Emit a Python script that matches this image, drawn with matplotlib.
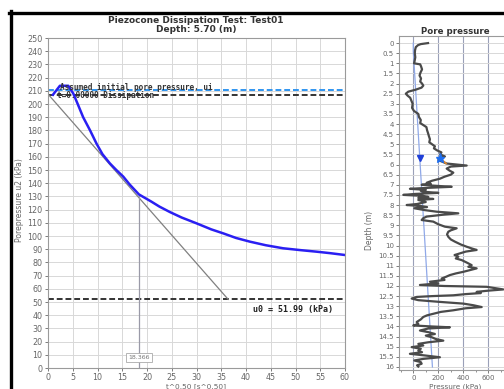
import matplotlib
matplotlib.use("Agg")
import matplotlib.pyplot as plt
from matplotlib.lines import Line2D
import numpy as np

# ---- dissipation test (left panel) ----
sqrt_t = [1.0, 2.4, 4.1, 5.1, 6.0, 7.1, 8.5, 9.8, 11.0, 12.5, 13.8, 15.2, 16.5,
          18.366, 20.9, 22.5, 24.6, 27.0, 30.0, 33.0, 35.4, 38.0, 40.8, 44.0,
          47.5, 51.0, 54.3, 57.0, 60.0]
u2 = [207.0, 213.8, 213.8, 208.0, 200.0, 190.0, 180.0, 170.0, 162.0, 155.0,
      150.0, 145.0, 139.0, 131.5, 126.0, 122.3, 118.2, 114.0, 109.6, 105.0,
      102.0, 98.5, 95.7, 93.0, 90.7, 89.3, 88.1, 87.0, 85.6]

ui = 210.5          # assumed initial pore pressure
u_start = 206.5     # pore pressure at start of dissipation
u0 = 51.99          # equilibrium pore pressure
t50_root = 18.366   # sqrt(t50)
tangent_x = [0.0, 36.4]
tangent_u = [207.5, u0]
u50 = 131.5

x_ticks = list(range(0, 61, 5))
y_ticks = list(range(0, 251, 10))

# ---- pore pressure profile (right panel) ----
depth = [0.00, 0.05, 0.10, 0.20, 0.35, 0.50, 0.70, 0.90, 1.00, 1.05, 1.15, 1.30,
         1.45, 1.60, 1.75, 1.90, 2.00, 2.10, 2.20, 2.30, 2.40, 2.50, 2.60, 2.70,
         2.85, 3.00, 3.20, 3.35, 3.50, 3.65, 3.80, 3.95, 4.05, 4.15, 4.30, 4.45,
         4.60, 4.75, 4.90, 5.00, 5.10, 5.20, 5.30, 5.40, 5.50, 5.60, 5.70, 5.78,
         5.88, 5.95, 6.05, 6.10, 6.20, 6.30, 6.40, 6.50, 6.60, 6.70, 6.80, 6.90,
         6.95, 7.00, 7.05, 7.10, 7.15, 7.20, 7.25, 7.30, 7.35, 7.40, 7.45, 7.50,
         7.55, 7.60, 7.65, 7.70, 7.75, 7.85, 7.95, 8.00, 8.05, 8.10, 8.16, 8.25,
         8.33, 8.41, 8.47, 8.57, 8.65, 8.74, 8.82, 8.95, 9.07, 9.15, 9.25, 9.32,
         9.45, 9.57, 9.70, 9.81, 9.95, 10.06, 10.15, 10.22, 10.30, 10.39, 10.47,
         10.55, 10.64, 10.72, 10.85, 10.97, 11.05, 11.13, 11.22, 11.30, 11.38,
         11.46, 11.55, 11.63, 11.70, 11.79, 11.87, 11.95, 12.00, 12.04, 12.10,
         12.17, 12.23, 12.29, 12.35, 12.40, 12.46, 12.50, 12.54, 12.62, 12.70,
         12.78, 12.87, 12.95, 13.04, 13.10, 13.20, 13.28, 13.37, 13.45, 13.53,
         13.65, 13.78, 13.88, 13.95, 14.00, 14.04, 14.10, 14.20, 14.28, 14.37,
         14.45, 14.53, 14.62, 14.70, 14.78, 14.86, 14.94, 15.02, 15.10, 15.19,
         15.27, 15.35, 15.43, 15.52, 15.60, 15.68, 15.76, 15.84, 15.92, 15.98]
pressure = [118, 60, 38, 20, 14, 12, 16, 10, 6, 55, 62, 70,
            58, 50, 62, 55, 70, 80, 66, 20, -40, -60, -45, -25,
            -15, -5, -10, 5, 40, 45, 60, 55, 80, 105, 110, 118,
            125, 133, 128, 150, 173, 165, 190, 225, 215, 253, 215, 200,
            240, 267, 427, 300, 267, 290, 320, 300, 250, 213, 150, 107,
            140, 67, 180, 307, 120, -27, 100, 60, 93, 200, 20, -80,
            80, 120, 40, 160, 40, 100, 30, -53, 60, 110, 8, 90,
            187, 360, 250, 107, 80, 67, 160, 200, 253, 347, 300, 280,
            270, 280, 300, 333, 380, 427, 470, 507, 420, 373, 330,
            360, 340, 387, 430, 467, 440, 507, 450, 400, 340,
            293, 260, 227, 250, 133, 200, 53, 250, 587, 650,
            720, 600, 507, 540, 420, 320, 150, 27, -13, 40,
            200, 400, 480, 547, 420, 320, 220, 160, 110, 80,
            60, 27, 40, 0, 150, 293, 120, 53, 120, 173,
            100, 147, 180, 240, 120, 40, 80, -13, 60, 40,
            70, -27, 90, 213, 80, 8, 60, 67, 30, 40]

hydro_depth = [0.0, 0.4, 16.0]
hydro_u = [0.0, 0.0, 153.0]
test_depth = 5.70
test_seg_depth = [5.65, 5.95]
test_seg_u = [210.0, 262.0]

depth_ticks = [i * 0.5 for i in range(33)]
depth_labels = ["0", "0.5", "1", "1.5", "2", "2.5", "3", "3.5", "4", "4.5", "5",
                "5.5", "6", "6.5", "7", "7.5", "8", "8.5", "9", "9.5", "10", "10.5",
                "11", "11.5", "12", "12.5", "13", "13.5", "14", "14.5", "15", "15.5", "16"]
press_ticks = [0, 200, 400, 600]

W, H = 504, 389
fig = plt.figure(figsize=(W / 100, H / 100), dpi=100)
fig.patch.set_facecolor("white")

def box(l, t, r, b):
    return [l / W, 1 - b / H, (r - l) / W, (b - t) / H]

tick_col = "#666666"
grid_col = "#d8d8d8"
spine_col = "#9a9a9a"

# ---- left panel ----
ax = fig.add_axes(box(48, 38, 345, 368))
ax.set_xlim(0, 60)
ax.set_ylim(0, 250)
ax.set_xticks(x_ticks)
ax.set_yticks(y_ticks)
ax.grid(True, color=grid_col, lw=0.7)
ax.set_axisbelow(True)
ax.tick_params(labelsize=5.8, colors=tick_col, length=2.5, width=0.6, pad=1.5)
ax.tick_params(axis="x", pad=1.0)
for s in ax.spines.values():
    s.set_color(spine_col)
    s.set_linewidth(0.8)

ax.axhline(ui, color="#2f95f0", lw=1.4, ls=(0, (3, 1.5)))
ax.axhline(u_start, color="#333333", lw=1.4, ls=(0, (3, 1.5)))
ax.axhline(u0, color="#333333", lw=1.4, ls=(0, (3, 1.5)))
ax.plot(tangent_x, tangent_u, color="#808080", lw=0.9)
ax.plot([t50_root, t50_root], [0, u50], color="#9a9aa8", lw=0.9)
ax.plot(sqrt_t, u2, color="#2a1ff2", lw=1.8, solid_joinstyle="round")

ax.text(2.4, ui - 1.5, "Assumed initial pore pressure, ui", fontsize=5.6,
        family="DejaVu Sans Mono", weight="bold", color="#333333", va="bottom")
ax.text(1.8, u_start, "t=0.00000 Dissipation", fontsize=5.6,
        family="DejaVu Sans Mono", weight="bold", color="#333333", va="center")
ax.text(57.5, u0 - 4, "u0 = %.2f (kPa)" % u0, fontsize=6,
        family="DejaVu Sans Mono", weight="bold", color="#222222",
        ha="right", va="top")
ax.text(t50_root, 8, "%.3f" % t50_root, fontsize=4.5, color="#777777",
        ha="center", va="center",
        bbox=dict(boxstyle="square,pad=0.3", fc="white", ec="#aaaaaa", lw=0.6))

fig.text(196 / W, 1 - 20.5 / H, "Piezocone Dissipation Test: Test01", fontsize=6.5,
         weight="bold", ha="center", va="center", color="#333333")
fig.text(196 / W, 1 - 30 / H, "Depth: %.2f (m)" % test_depth, fontsize=6.5,
         weight="bold", ha="center", va="center", color="#333333")
fig.text(20 / W, 1 - 200 / H, "Porepressure u2 (kPa)", fontsize=5.5, rotation=90,
         ha="center", va="center", color=tick_col)
fig.text(196 / W, 1 - 386.5 / H, "t^0.50 [s^0.50]", fontsize=5.3,
         ha="center", va="center", color=tick_col)

# ---- right panel ----
ax2 = fig.add_axes(box(399.3, 36, 513.3, 370))
ax2.set_xlim(-112, 800)
ax2.set_ylim(16.15, -0.35)
ax2.set_yticks(depth_ticks)
ax2.set_yticklabels(depth_labels)
ax2.set_xticks(press_ticks)
ax2.set_xticks([-100, 100, 300, 500, 700], minor=True)
ax2.yaxis.grid(True, color=grid_col, lw=0.7)
ax2.xaxis.grid(True, color="#9aa0b8", lw=0.8)
ax2.set_axisbelow(True)
ax2.tick_params(labelsize=5, colors=tick_col, length=2.5, width=0.6, pad=1.5)
ax2.tick_params(axis="x", pad=1.0)
ax2.tick_params(which="minor", length=1.5, width=0.5, colors=tick_col)
for s in ax2.spines.values():
    s.set_color(spine_col)
    s.set_linewidth(0.8)

ax2.plot(hydro_u, hydro_depth, color="#8fa8e8", lw=0.9)
ax2.plot(pressure, depth, color="#4a4a4a", lw=1.6)
ax2.plot(test_seg_u, test_seg_depth, color="#e08a30", lw=1.2)
ax2.plot([u0], [test_depth], marker="v", ms=4.5, color="#1f3fd8", ls="none")
ax2.plot([ui], [test_depth], marker="*", ms=6.5, color="#1f6ff0", ls="none")

fig.text(455 / W, 1 - 32 / H, "Pore pressure", fontsize=6.2, weight="bold",
         ha="center", va="center", color="#333333")
fig.text(370 / W, 1 - 230 / H, "Depth (m)", fontsize=5.5, rotation=90,
         ha="center", va="center", color=tick_col)
fig.text(455 / W, 1 - 386.5 / H, "Pressure (kPa)", fontsize=5.3,
         ha="center", va="center", color=tick_col)

# ---- outer frame ----
fig.add_artist(Line2D([9 / W, 1], [1 - 12.5 / H, 1 - 12.5 / H], lw=2.4,
                      color="black", transform=fig.transFigure))
fig.add_artist(Line2D([10.5 / W, 10.5 / W], [0, 1 - 11 / H], lw=2.4,
                      color="black", transform=fig.transFigure))

fig.savefig("out.png", dpi=100, facecolor="white")
